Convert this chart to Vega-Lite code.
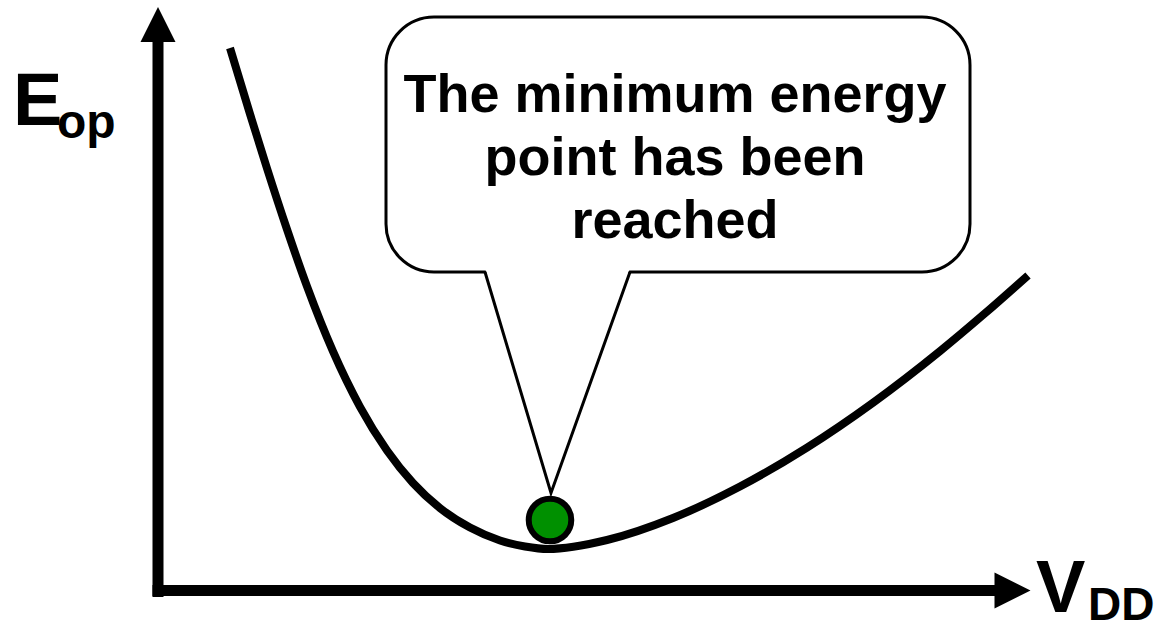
{
  "$schema": "https://vega.github.io/schema/vega-lite/v6.json",
  "width": 1159,
  "height": 631,
  "autosize": {"type": "none"},
  "padding": 0,
  "background": "white",
  "config": {"view": {"stroke": null}},
  "datasets": {
    "curve": [
      {"vdd": 230, "eop": 583}, {"vdd": 250, "eop": 517}, {"vdd": 267, "eop": 462.6},
      {"vdd": 287, "eop": 401.6}, {"vdd": 307, "eop": 344.6}, {"vdd": 333, "eop": 279.6},
      {"vdd": 360, "eop": 224.2}, {"vdd": 387, "eop": 180.5}, {"vdd": 413, "eop": 148},
      {"vdd": 440, "eop": 122.9}, {"vdd": 470, "eop": 103.4}, {"vdd": 500, "eop": 90.5},
      {"vdd": 525, "eop": 84.5}, {"vdd": 548, "eop": 82}, {"vdd": 607, "eop": 91},
      {"vdd": 673, "eop": 113}, {"vdd": 740, "eop": 144.5}, {"vdd": 807, "eop": 183.4},
      {"vdd": 873, "eop": 228.3}, {"vdd": 940, "eop": 279.9}, {"vdd": 985, "eop": 317.7},
      {"vdd": 1028, "eop": 355.6}
    ],
    "axes": [
      {"x": 158, "y": 34, "x2": 158, "y2": 600},
      {"x": 152.5, "y": 40.5, "x2": 1000, "y2": 40.5}
    ],
    "arrows": [
      {"x": 158, "y": 606.5, "dir": "up"},
      {"x": 1012.5, "y": 40.5, "dir": "right"}
    ],
    "bubble": [{"x": 386, "x2": 970, "y": 614, "y2": 359}],
    "pointerFill": [
      {"x": 485, "y": 363, "y2": 363},
      {"x": 551, "y": 363, "y2": 138},
      {"x": 630, "y": 363, "y2": 363}
    ],
    "pointerLine": [
      {"x": 485, "y": 359},
      {"x": 551, "y": 138},
      {"x": 630, "y": 359}
    ],
    "point": [{"x": 550, "y": 111}],
    "bubbleText": [
      {"x": 675, "y": 519, "t": "The minimum energy"},
      {"x": 675, "y": 456, "t": "point has been"},
      {"x": 675, "y": 393, "t": "reached"}
    ],
    "mainLabels": [
      {"x": 13, "y": 506, "t": "E"},
      {"x": 1036, "y": 19, "t": "V"}
    ],
    "subLabels": [
      {"x": 57, "y": 493, "t": "op", "s": 48},
      {"x": 1088, "y": 11, "t": "DD", "s": 46}
    ]
  },
  "layer": [
    {
      "data": {"name": "axes"},
      "mark": {"type": "rule", "color": "black", "strokeWidth": 11, "strokeCap": "butt"},
      "encoding": {
        "x": {"field": "x", "type": "quantitative", "scale": {"domain": [0, 1159], "nice": false, "zero": false}, "axis": null},
        "y": {"field": "y", "type": "quantitative", "scale": {"domain": [0, 631], "nice": false, "zero": false}, "axis": null},
        "x2": {"field": "x2"},
        "y2": {"field": "y2"}
      }
    },
    {
      "data": {"name": "arrows"},
      "transform": [{"filter": "datum.dir == 'up'"}],
      "mark": {"type": "point", "filled": true, "color": "black", "opacity": 1, "shape": "M0,-1L1,1L-1,1Z", "size": 1225},
      "encoding": {
        "x": {"field": "x", "type": "quantitative", "scale": {"domain": [0, 1159], "nice": false, "zero": false}, "axis": null},
        "y": {"field": "y", "type": "quantitative", "scale": {"domain": [0, 631], "nice": false, "zero": false}, "axis": null}
      }
    },
    {
      "data": {"name": "arrows"},
      "transform": [{"filter": "datum.dir == 'right'"}],
      "mark": {"type": "point", "filled": true, "color": "black", "opacity": 1, "shape": "M1,0L-1,-1L-1,1Z", "size": 1296},
      "encoding": {
        "x": {"field": "x", "type": "quantitative", "scale": {"domain": [0, 1159], "nice": false, "zero": false}, "axis": null},
        "y": {"field": "y", "type": "quantitative", "scale": {"domain": [0, 631], "nice": false, "zero": false}, "axis": null}
      }
    },
    {
      "data": {"name": "curve"},
      "mark": {"type": "line", "color": "black", "strokeWidth": 8, "interpolate": "monotone"},
      "encoding": {
        "x": {"field": "vdd", "type": "quantitative", "scale": {"domain": [0, 1159], "nice": false, "zero": false}, "axis": null},
        "y": {"field": "eop", "type": "quantitative", "scale": {"domain": [0, 631], "nice": false, "zero": false}, "axis": null}
      }
    },
    {
      "data": {"name": "bubble"},
      "mark": {"type": "rect", "fill": "white", "stroke": "black", "strokeWidth": 3, "cornerRadius": 48},
      "encoding": {
        "x": {"field": "x", "type": "quantitative", "scale": {"domain": [0, 1159], "nice": false, "zero": false}, "axis": null},
        "x2": {"field": "x2"},
        "y": {"field": "y", "type": "quantitative", "scale": {"domain": [0, 631], "nice": false, "zero": false}, "axis": null},
        "y2": {"field": "y2"}
      }
    },
    {
      "data": {"name": "pointerFill"},
      "mark": {"type": "area", "fill": "white", "opacity": 1, "interpolate": "linear"},
      "encoding": {
        "x": {"field": "x", "type": "quantitative", "scale": {"domain": [0, 1159], "nice": false, "zero": false}, "axis": null},
        "y": {"field": "y", "type": "quantitative", "scale": {"domain": [0, 631], "nice": false, "zero": false}, "axis": null},
        "y2": {"field": "y2"}
      }
    },
    {
      "data": {"name": "pointerLine"},
      "mark": {"type": "line", "color": "black", "strokeWidth": 3, "strokeJoin": "miter"},
      "encoding": {
        "x": {"field": "x", "type": "quantitative", "scale": {"domain": [0, 1159], "nice": false, "zero": false}, "axis": null},
        "y": {"field": "y", "type": "quantitative", "scale": {"domain": [0, 631], "nice": false, "zero": false}, "axis": null}
      }
    },
    {
      "data": {"name": "point"},
      "mark": {"type": "point", "shape": "circle", "filled": true, "fill": "#009000", "stroke": "black", "strokeWidth": 6, "opacity": 1, "size": 1810},
      "encoding": {
        "x": {"field": "x", "type": "quantitative", "scale": {"domain": [0, 1159], "nice": false, "zero": false}, "axis": null},
        "y": {"field": "y", "type": "quantitative", "scale": {"domain": [0, 631], "nice": false, "zero": false}, "axis": null}
      }
    },
    {
      "data": {"name": "bubbleText"},
      "mark": {"type": "text", "font": "Liberation Sans", "fontWeight": "bold", "fontSize": 54, "align": "center", "baseline": "alphabetic", "color": "black"},
      "encoding": {
        "x": {"field": "x", "type": "quantitative", "scale": {"domain": [0, 1159], "nice": false, "zero": false}, "axis": null},
        "y": {"field": "y", "type": "quantitative", "scale": {"domain": [0, 631], "nice": false, "zero": false}, "axis": null},
        "text": {"field": "t"}
      }
    },
    {
      "data": {"name": "mainLabels"},
      "mark": {"type": "text", "font": "Liberation Sans", "fontWeight": "bold", "fontSize": 74, "align": "left", "baseline": "alphabetic", "color": "black"},
      "encoding": {
        "x": {"field": "x", "type": "quantitative", "scale": {"domain": [0, 1159], "nice": false, "zero": false}, "axis": null},
        "y": {"field": "y", "type": "quantitative", "scale": {"domain": [0, 631], "nice": false, "zero": false}, "axis": null},
        "text": {"field": "t"}
      }
    },
    {
      "data": {"name": "subLabels"},
      "mark": {"type": "text", "font": "Liberation Sans", "fontWeight": "bold", "align": "left", "baseline": "alphabetic", "color": "black"},
      "encoding": {
        "x": {"field": "x", "type": "quantitative", "scale": {"domain": [0, 1159], "nice": false, "zero": false}, "axis": null},
        "y": {"field": "y", "type": "quantitative", "scale": {"domain": [0, 631], "nice": false, "zero": false}, "axis": null},
        "text": {"field": "t"},
        "size": {"field": "s", "type": "quantitative", "scale": null, "legend": null}
      }
    }
  ]
}
